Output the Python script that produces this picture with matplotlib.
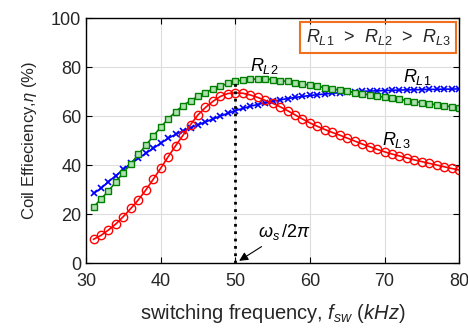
import numpy as np
import matplotlib.pyplot as plt

plt.rcParams['font.family'] = ['Liberation Sans', 'DejaVu Sans']
plt.rcParams['mathtext.fontset'] = 'custom'
plt.rcParams['mathtext.rm'] = 'Liberation Sans'
plt.rcParams['mathtext.it'] = 'Liberation Sans:italic'

# switching frequency in kHz
freq = list(range(31, 81))

# coil efficiency (%) for the three load resistances
eff_rl1 = [28.4, 30.5, 33.2, 35.7, 38.2, 40.7, 42.7, 44.8, 46.8, 48.9,
           50.9, 52.5, 54.0, 55.2, 56.4, 57.6, 58.8, 60.0, 61.1, 62.2,
           63.1, 64.0, 64.7, 65.4, 66.0, 66.6, 67.1, 67.6, 68.0, 68.4,
           68.7, 69.0, 69.3, 69.5, 69.7, 69.9, 70.1, 70.2, 70.3, 70.4,
           70.5, 70.6, 70.7, 70.7, 70.8, 70.9, 70.9, 71.0, 71.0, 71.1]
eff_rl2 = [22.8, 26.2, 29.4, 33.2, 36.9, 40.5, 44.4, 48.0, 51.8, 55.5,
           58.8, 61.8, 64.3, 66.3, 68.0, 69.6, 71.0, 72.2, 73.3, 74.2,
           74.7, 75.0, 75.1, 75.1, 74.9, 74.5, 74.1, 73.6, 73.1, 72.6,
           72.1, 71.6, 71.1, 70.6, 70.1, 69.6, 69.1, 68.6, 68.1, 67.7,
           67.2, 66.8, 66.3, 65.9, 65.5, 65.0, 64.6, 64.2, 63.8, 63.4]
eff_rl3 = [9.7, 11.3, 13.5, 16.0, 19.0, 22.3, 25.8, 29.8, 34.2, 38.7,
           43.4, 47.9, 52.2, 56.5, 60.5, 63.5, 66.0, 68.0, 69.2, 69.5,
           69.3, 68.6, 67.6, 66.4, 65.2, 63.8, 62.2, 60.5, 58.8, 57.2,
           55.8, 54.5, 53.3, 52.2, 51.0, 49.8, 48.6, 47.5, 46.4, 45.4,
           44.5, 43.7, 42.9, 42.1, 41.4, 40.7, 40.0, 39.3, 38.6, 38.0]

f_res = 50  # resonant frequency (kHz)

fig = plt.figure(figsize=(4.68, 3.28), dpi=100)
ax = fig.add_axes([0.184, 0.198, 0.797, 0.747])

ax.plot(freq, eff_rl1, color='blue', marker='x', markersize=4, markeredgewidth=1.2, linewidth=1.2)
ax.plot(freq, eff_rl2, color='#008000', marker='s', markersize=4.5, markerfacecolor='#b0e0b0',
        markeredgewidth=1.0, linewidth=1.2)
ax.plot(freq, eff_rl3, color='red', marker='o', markersize=6, markerfacecolor='none',
        markeredgewidth=1.0, linewidth=1.2)

# dotted line at the resonant frequency, up to the peak curve
ax.plot([f_res, f_res], [0, eff_rl2[freq.index(f_res)]], color='black', linestyle=':', linewidth=2)

ax.annotate(r'$\omega_s\,/2\pi$', xy=(f_res + 0.2, 0.3), xytext=(53, 10.5),
            fontsize=13, arrowprops=dict(arrowstyle='-|>', color='black', lw=0.8))

# curve labels
ax.text(52.0, 76.5, r'$R_{L2}$', fontsize=13, va='bottom')
ax.text(72.5, 72.0, r'$R_{L1}$', fontsize=13, va='bottom')
ax.text(69.6, 46.3, r'$R_{L3}$', fontsize=13, va='bottom')

ax.text(0.783, 0.921, r'$R_{L1}$  >  $R_{L2}$  >  $R_{L3}$', transform=ax.transAxes, fontsize=13,
        ha='center', va='center', color='#262626',
        bbox=dict(boxstyle='square,pad=0.3', facecolor='none', edgecolor='#f07020', linewidth=1.5))

ax.set_xlim(30, 80)
ax.set_ylim(0, 100)
ax.set_xticks([30, 40, 50, 60, 70, 80])
ax.set_yticks([0, 20, 40, 60, 80, 100])
ax.grid(True, color='#dddddd', linewidth=0.8)
ax.tick_params(direction='in', top=True, right=True, labelsize=13, length=4,
               colors='black', labelcolor='#262626')
ax.tick_params(axis='x', pad=7)
for s in ax.spines.values():
    s.set_linewidth(1.0)

ax.set_xlabel(r'switching frequency, $f_{sw}$ ($kHz$)', fontsize=14.5, labelpad=9, color='#262626')
ax.set_ylabel(r'Coil Effieciency,$\eta$ (%)', fontsize=12, labelpad=9, color='#262626')

fig.savefig('out.png', dpi=100)
